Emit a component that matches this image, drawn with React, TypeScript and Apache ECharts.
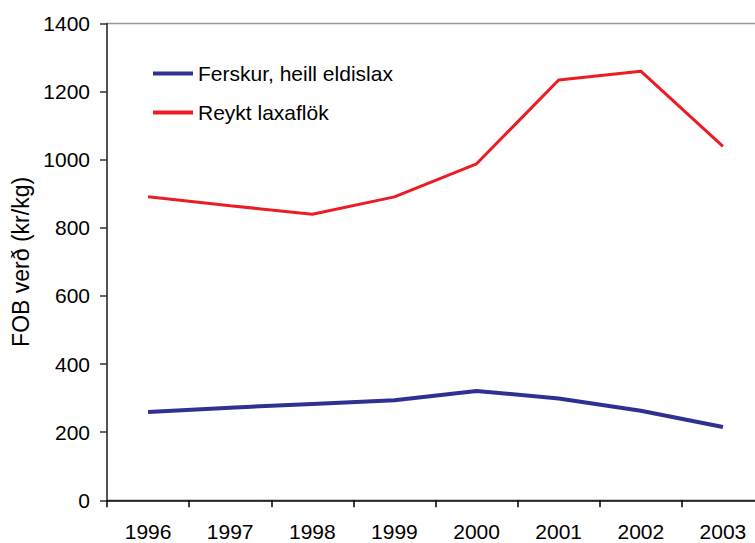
import React, { useEffect, useRef } from "react";
import * as echarts from "echarts";

const years = ["1996", "1997", "1998", "1999", "2000", "2001", "2002", "2003"];
const fresh = [259, 272, 283, 294, 321, 299, 263, 215];
const smoked = [891, 865, 840, 891, 988, 1234, 1260, 1039];
const seriesNames = ["Ferskur, heill eldislax", "Reykt laxaflök"];
const yAxisTitle = "FOB verð (kr/kg)";

const FONT = "Liberation Sans, Arial, sans-serif";
const BLUE = "#2E3192";
const RED = "#ED1C24";

export default function App() {
  const ref = useRef<HTMLDivElement>(null);
  useEffect(() => {
    if (!ref.current) return;
    const chart = echarts.init(ref.current, undefined, { renderer: "svg" });
    chart.setOption({
      animation: false,
      backgroundColor: "#ffffff",
      textStyle: { fontFamily: FONT },
      grid: {
        left: 107,
        top: 23.5,
        right: -9,
        bottom: 42.7,
        containLabel: false,
        outerBoundsMode: "none",
        show: true,
        borderColor: "#999999",
        borderWidth: 1.5,
        backgroundColor: "transparent",
      },
      legend: {
        orient: "vertical",
        left: 153,
        top: 63,
        padding: 0,
        itemWidth: 40,
        itemHeight: 4,
        itemGap: 18,
        textStyle: { fontSize: 21, color: "#000", fontFamily: FONT },
        data: [
          { name: seriesNames[0], icon: "rect", itemStyle: { color: BLUE } },
          { name: seriesNames[1], icon: "rect", itemStyle: { color: RED } },
        ],
      },
      xAxis: {
        type: "category",
        data: years,
        boundaryGap: true,
        axisLine: { lineStyle: { color: "#000", width: 1.5 } },
        axisTick: { show: true, length: 7, alignWithLabel: false, lineStyle: { color: "#000", width: 1.5 } },
        axisLabel: { fontSize: 21, lineHeight: 21, color: "#000", margin: 21, fontFamily: FONT },
        splitLine: { show: false },
      },
      yAxis: {
        type: "value",
        min: 0,
        max: 1400,
        interval: 200,
        name: yAxisTitle,
        nameLocation: "middle",
        nameGap: 73,
        nameRotate: 90,
        nameTextStyle: { fontSize: 23, color: "#000", fontFamily: FONT },
        axisLine: { show: true, lineStyle: { color: "#333", width: 1.5 } },
        axisTick: { show: true, length: 7, lineStyle: { color: "#333", width: 1.5 } },
        axisLabel: {
          fontSize: 21,
          color: "#000",
          margin: 17,
          fontFamily: FONT,
          formatter: (v: number) => String(v),
        },
        splitLine: { show: false },
      },
      series: [
        {
          name: seriesNames[0],
          type: "line",
          data: fresh,
          symbol: "none",
          lineStyle: { color: BLUE, width: 4 },
          itemStyle: { color: BLUE },
        },
        {
          name: seriesNames[1],
          type: "line",
          data: smoked,
          symbol: "none",
          lineStyle: { color: RED, width: 3 },
          itemStyle: { color: RED },
        },
      ],
    });
    return () => chart.dispose();
  }, []);
  return <div ref={ref} style={{ width: 755, height: 543, position: "absolute", left: 0, top: 0 }} />;
}
